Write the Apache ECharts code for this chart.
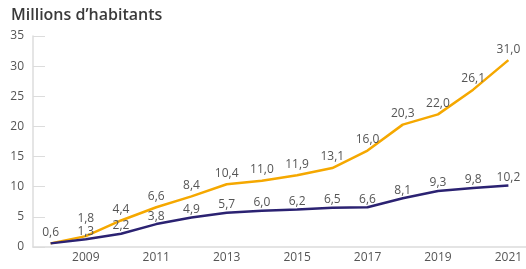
<!DOCTYPE html>
<html>
<head>
<meta charset="utf-8">
<script src="https://cdn.jsdelivr.net/npm/echarts@6/dist/echarts.min.js"></script>
<style>html,body{margin:0;padding:0;background:#fff;}#c{width:526px;height:269px;}</style>
</head>
<body>
<div id="c"></div>
<script>
const years = ['2008','2009','2010','2011','2012','2013','2014','2015','2016','2017','2018','2019','2020','2021'];
const seriesA = [0.6, 1.8, 4.4, 6.6, 8.4, 10.4, 11.0, 11.9, 13.1, 16.0, 20.3, 22.0, 26.1, 31.0];
const seriesB = [0.6, 1.3, 2.2, 3.8, 4.9, 5.7, 6.0, 6.2, 6.5, 6.6, 8.1, 9.3, 9.8, 10.2];
const yTicks = [0, 5, 10, 15, 20, 25, 30, 35];
const title = 'Millions d\u2019habitants';

const font = '"Open Sans", sans-serif';
const fmt = v => v.toFixed(1).replace('.', ',');
const dataA = seriesA.map((v, i) => i === 1 ? { value: v, label: { distance: 12 } } : v);
const chart = echarts.init(document.getElementById('c'));
chart.setOption({
  animation: false,
  title: { text: title, left: 6, top: 2, textStyle: { fontFamily: font, fontSize: 16, fontWeight: 600, color: '#3a3a3a' } },
  grid: { left: 33, right: -1, top: 36, bottom: 22 },
  xAxis: {
    type: 'category', data: years, boundaryGap: true,
    axisLine: { lineStyle: { color: '#dcdcdc', width: 1.5 } },
    axisTick: { inside: true, length: 5, lineStyle: { color: '#dcdcdc' }, interval: 0 },
    axisLabel: { interval: (i) => i % 2 === 1, color: '#555', fontFamily: font, fontSize: 12, margin: 5 }
  },
  yAxis: {
    type: 'value', min: yTicks[0], max: yTicks[yTicks.length - 1], interval: 5,
    axisLine: { show: true, lineStyle: { color: '#dcdcdc', width: 1.5 } },
    axisTick: { show: true, inside: true, length: 12, lineStyle: { color: '#dcdcdc' } },
    splitLine: { show: false },
    axisLabel: { color: '#555', fontFamily: font, fontSize: 12, margin: 9 }
  },
  series: [
    {
      type: 'line', data: dataA, showSymbol: true, symbol: 'circle', symbolSize: 0,
      lineStyle: { color: '#F5A800', width: 2.5 }, itemStyle: { color: '#F5A800' },
      label: { show: true, position: 'top', distance: 5, color: '#555', fontFamily: font, fontSize: 12, formatter: p => fmt(p.value) }
    },
    {
      type: 'line', data: seriesB, showSymbol: true, symbol: 'circle', symbolSize: 0,
      lineStyle: { color: '#2B2272', width: 2.5 }, itemStyle: { color: '#2B2272' },
      label: { show: true, position: 'top', distance: 2, color: '#555', fontFamily: font, fontSize: 12, formatter: p => p.dataIndex === 0 ? '' : fmt(p.value) }
    }
  ]
});
</script>
</body>
</html>
